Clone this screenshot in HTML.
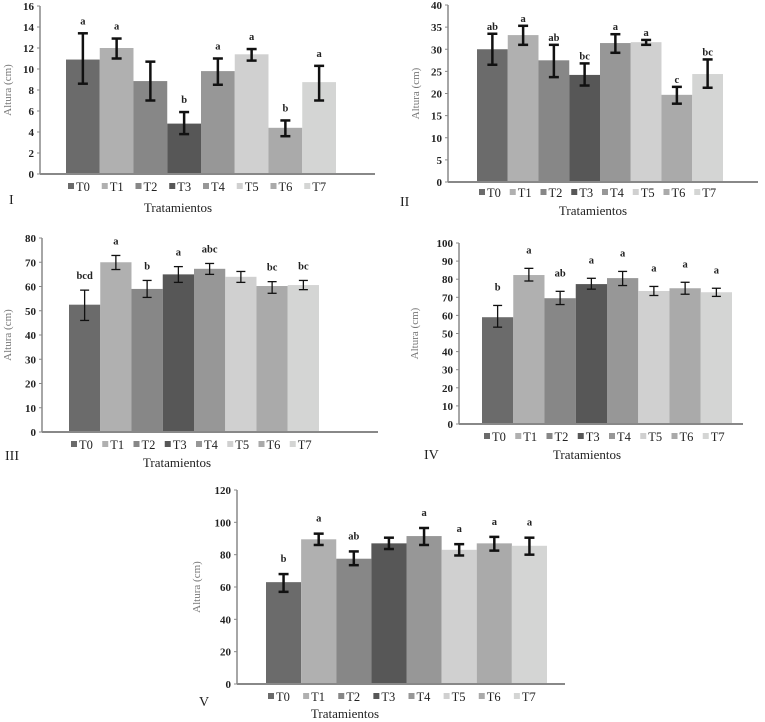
<!DOCTYPE html>
<html><head><meta charset="utf-8">
<style>
html,body{margin:0;padding:0;background:#fff;}
svg{display:block;font-family:"Liberation Serif","DejaVu Serif",serif;}
svg text{font-family:"Liberation Serif","DejaVu Serif",serif;}
.tick{font-family:"Liberation Serif",serif;font-size:11px;font-weight:bold;fill:#222;}
.ytitle{font-family:"Liberation Serif",serif;font-size:11px;fill:#777;}
.leg{font-family:"Liberation Serif",serif;font-size:12.5px;fill:#222;}
.xt{font-family:"Liberation Serif",serif;font-size:13px;fill:#222;}
.lett{font-family:"Liberation Serif",serif;font-size:10.5px;font-weight:bold;fill:#222;}
.pnl{font-family:"Liberation Serif",serif;font-size:14px;fill:#222;}
</style></head>
<body>
<svg id="c" width="765" height="722" viewBox="0 0 765 722" font-family="Liberation Serif, serif"></svg>
<script>
const categories = ["T0","T1","T2","T3","T4","T5","T6","T7"];
const colors = ["#6b6b6b","#b0b0b0","#878787","#575757","#979797","#d0d0d0","#aaaaaa","#d4d5d4"];

const valuesI = [10.9,12.0,8.85,4.8,9.8,11.4,4.4,8.75];
const lowI    = [8.6,11.0,7.0,3.8,8.5,10.8,3.6,7.0];
const highI   = [13.4,12.9,10.7,5.9,11.0,11.9,5.1,10.3];
const lettersI = ["a","a","","b","a","a","b","a"];
const ticksI = [0,2,4,6,8,10,12,14,16];

const valuesII = [30.0,33.2,27.5,24.2,31.4,31.6,19.7,24.4];
const lowII    = [26.5,31.0,23.7,21.8,29.2,31.0,17.7,21.3];
const highII   = [33.5,35.3,31.0,26.8,33.4,32.1,21.5,27.7];
const lettersII = ["ab","a","ab","bc","a","a","c","bc"];
const ticksII = [0,5,10,15,20,25,30,35,40];

const valuesIII = [52.5,70.0,59.0,65.0,67.3,64.0,60.2,60.6];
const lowIII    = [46.0,67.0,55.5,61.7,65.0,61.7,57.2,58.7];
const highIII   = [58.5,72.8,62.5,68.2,69.5,66.2,62.0,62.5];
const lettersIII = ["bcd","a","b","a","abc","","bc","bc"];
const ticksIII = [0,10,20,30,40,50,60,70,80];

const valuesIV = [59.0,82.3,69.5,77.3,80.6,73.5,75.0,72.8];
const lowIV    = [53.5,79.0,66.0,74.5,76.5,71.0,71.7,70.5];
const highIV   = [65.5,86.0,73.3,80.5,84.3,76.0,78.3,75.0];
const lettersIV = ["b","a","ab","a","a","a","a","a"];
const ticksIV = [0,10,20,30,40,50,60,70,80,90,100];

const valuesV = [63.0,89.5,77.5,87.0,91.5,83.0,87.0,85.5];
const lowV    = [57.0,86.0,73.5,83.5,86.0,79.5,82.5,80.0];
const highV   = [68.0,93.0,82.0,90.5,96.5,86.5,91.0,90.5];
const lettersV = ["b","a","ab","","a","a","a","a"];
const ticksV = [0,20,40,60,80,100,120];

const NS="http://www.w3.org/2000/svg";
const svg=document.getElementById('c');
function mk(tag,attrs,parent){const e=document.createElementNS(NS,tag);for(const k in attrs)e.setAttribute(k,attrs[k]);(parent||svg).appendChild(e);return e;}

function panel(cfg){
  const g=mk('g',{});
  
  
  const max=cfg.ticks[cfg.ticks.length-1];
  const y=v=>cfg.y0-(v/max)*(cfg.y0-cfg.yTop);
  const bw=(cfg.bx1-cfg.bx0)/categories.length;
  const x=i=>cfg.bx0+i*bw;
  cfg.ticks.forEach(t=>{
    const tl=mk('text',{x:cfg.ax-6,y:y(t)+4,'text-anchor':'end',class:'tick'},g);
    tl.textContent=t;
    
    
    const tk=mk('line',{x1:cfg.ax-3,x2:cfg.ax,y1:y(t),y2:y(t),stroke:'#888','stroke-width':1},g);
    
    
  });
  cfg.values.forEach((v,i)=>{
    const r=mk('rect',{x:x(i),y:y(v),width:bw,height:cfg.y0-y(v),fill:colors[i]},g);
    
    
  });
  cfg.values.forEach((v,i)=>{
    const cx=x(i)+bw/2, sw=cfg.thick?2.5:1.3, cap=cfg.thick?5:4.5;
    const eg=mk('g',{stroke:'#111','stroke-width':sw},g);
    
    
    mk('line',{x1:cx,x2:cx,y1:y(cfg.low[i]),y2:y(cfg.high[i])},eg);
    mk('line',{x1:cx-cap,x2:cx+cap,y1:y(cfg.low[i]),y2:y(cfg.low[i])},eg);
    mk('line',{x1:cx-cap,x2:cx+cap,y1:y(cfg.high[i]),y2:y(cfg.high[i])},eg);
    if(cfg.letters[i]){
      const lt=mk('text',{x:cx,y:y(cfg.high[i])-cfg.gap,'text-anchor':'middle',class:'lett'},g);
      lt.textContent=cfg.letters[i];
      
      
    }
  });
  const ya=mk('line',{x1:cfg.ax,x2:cfg.ax,y1:cfg.yTop,y2:cfg.y0,stroke:'#888','stroke-width':1.5},g);
  
  
  const xa=mk('line',{x1:cfg.ax,x2:cfg.axEnd,y1:cfg.y0,y2:cfg.y0,stroke:'#888','stroke-width':2},g);
  
  
  const cy=(cfg.y0+cfg.yTop)/2;
  const yt=mk('text',{x:cfg.titleX,y:cy,transform:`rotate(-90 ${cfg.titleX} ${cy})`,'text-anchor':'middle',class:'ytitle'},g);
  yt.textContent='Altura (cm)';
  
  
  categories.forEach((c,i)=>{
    const lx=cfg.bx0+2+i*bw;
    const lg=mk('g',{},g);
    
    
    mk('rect',{x:lx,y:cfg.legY-4,width:6,height:6,fill:colors[i]},lg);
    const t=mk('text',{x:lx+8,y:cfg.legY+4,class:'leg'},lg);
    t.textContent=c;
  });
  const xt=mk('text',{x:cfg.xtX,y:cfg.xtY,'text-anchor':'middle',class:'xt'},g);
  xt.textContent='Tratamientos';
  
  
  const pl=mk('text',{x:cfg.plX,y:cfg.plY,class:'pnl'},g);
  pl.textContent=cfg.id;
  
  
}

panel({id:'I',values:valuesI,low:lowI,high:highI,letters:lettersI,ticks:ticksI,
  ax:40,axEnd:375,y0:174,yTop:6,bx0:66,bx1:336,thick:true,gap:9,titleX:11,
  legY:187,xtX:178,xtY:212,plX:9,plY:204});
panel({id:'II',values:valuesII,low:lowII,high:highII,letters:lettersII,ticks:ticksII,
  ax:448,axEnd:758,y0:182,yTop:5,bx0:477,bx1:723,thick:true,gap:4,titleX:419,
  legY:193,xtX:593,xtY:215,plX:400,plY:206});
panel({id:'III',values:valuesIII,low:lowIII,high:highIII,letters:lettersIII,ticks:ticksIII,
  ax:42,axEnd:378,y0:432,yTop:238,bx0:69,bx1:319,thick:false,gap:11,titleX:11,
  legY:445,xtX:177,xtY:467,plX:5,plY:460});
panel({id:'IV',values:valuesIV,low:lowIV,high:highIV,letters:lettersIV,ticks:ticksIV,
  ax:459,axEnd:743,y0:424,yTop:243,bx0:482,bx1:732,thick:false,gap:15,titleX:418,
  legY:437,xtX:587,xtY:459,plX:424,plY:459});
panel({id:'V',values:valuesV,low:lowV,high:highV,letters:lettersV,ticks:ticksV,
  ax:237,axEnd:565,y0:684,yTop:490,bx0:266,bx1:547,thick:true,gap:12,titleX:200,
  legY:697,xtX:345,xtY:718,plX:199,plY:706});
</script>
</body></html>
